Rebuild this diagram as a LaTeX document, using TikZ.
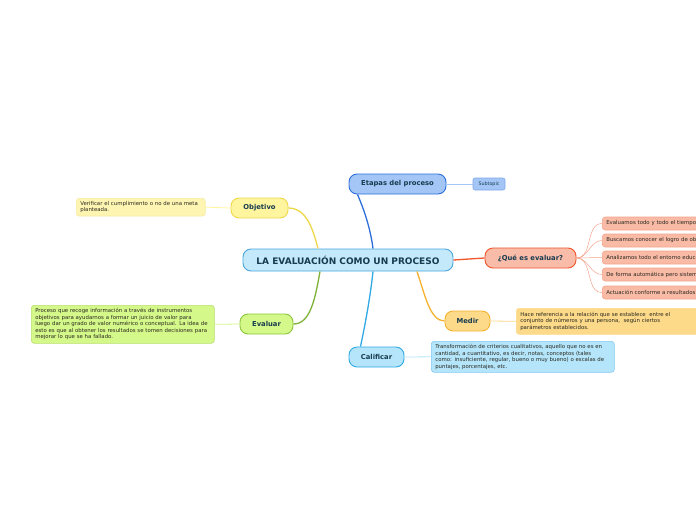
\documentclass[tikz,border=0pt]{standalone}
\usepackage{fontspec}
\setmainfont{DejaVu Sans}
\usepackage{xcolor}
\usetikzlibrary{arrows.meta, calc}

\definecolor{ink}{HTML}{173B4F}
\definecolor{smallink}{HTML}{2A2A20}
\definecolor{mainfill}{HTML}{C4E9FB}
\definecolor{maindraw}{HTML}{4AA6DC}
\definecolor{etafill}{HTML}{A4C6F6}
\definecolor{etadraw}{HTML}{2C6FDA}
\definecolor{objfill}{HTML}{FFF59E}
\definecolor{objdraw}{HTML}{EED84A}
\definecolor{objnote}{HTML}{FFF5B2}
\definecolor{quefill}{HTML}{F9BCA9}
\definecolor{quedraw}{HTML}{F0552C}
\definecolor{quenote}{HTML}{F9BAA6}
\definecolor{quenotedraw}{HTML}{F5A48C}
\definecolor{medfill}{HTML}{FDDA8A}
\definecolor{meddraw}{HTML}{F6B22E}
\definecolor{calfill}{HTML}{B4E5FA}
\definecolor{caldraw}{HTML}{31A9E4}
\definecolor{calnote}{HTML}{82C9F0}
\definecolor{evafill}{HTML}{D5F88A}
\definecolor{evadraw}{HTML}{8CC63C}
\definecolor{evanote}{HTML}{B8DF6A}

\begin{document}
\begin{tikzpicture}[x=1pt, y=-1pt,
    topic/.style={draw, line width=0.9pt, rounded corners=8pt, text=ink,
        font=\fontsize{6.8}{8}\selectfont\bfseries, minimum height=20pt, inner sep=0pt},
    note/.style={draw, line width=0.6pt, rounded corners=3pt, text=smallink,
        font=\fontsize{5.4}{6.5}\selectfont, align=left, anchor=north west,
        inner xsep=4pt, inner ysep=3pt},
    leaf/.style={note, draw=quenotedraw, fill=quenote, text width=140pt,
        minimum height=13pt, anchor=west},
    branch/.style={line width=1.3pt},
    twig/.style={line width=0.8pt}]
\clip (0,0) rectangle (696,520);
\fill[white] (0,0) rectangle (696,520);

\node[draw=maindraw, fill=mainfill, line width=0.9pt, rounded corners=8pt,
    minimum width=210pt, minimum height=22pt, inner sep=0pt, text=ink,
    font=\fontsize{9}{10}\selectfont\bfseries] (c) at (348,260) {LA EVALUACIÓN COMO UN PROCESO};

\node[topic, draw=etadraw, fill=etafill, minimum width=97pt] (e) at (397.5,184) {Etapas del proceso};
\node[draw=etadraw!60, fill=etafill, line width=0.6pt, rounded corners=2pt,
    minimum width=32pt, minimum height=12pt, inner sep=0pt, text=ink,
    font=\fontsize{4.8}{5}\selectfont] (s) at (489,184) {Subtopic};

\node[topic, draw=objdraw, fill=objfill, minimum width=57pt] (o) at (259.5,208) {Objetivo};
\node[note, draw=objdraw!50, fill=objnote, text width=121pt] (o1) at (76,198) {Verificar el cumplimiento o no de una meta\\planteada.};

\node[topic, draw=quedraw, fill=quefill, minimum width=91pt] (q) at (530.5,258) {¿Qué es evaluar?};
\node[leaf] (q1) at (602,223.5) {Evaluamos todo y todo el tiempo};
\node[leaf] (q2) at (602,240.5) {Buscamos conocer el logro de objetivos};
\node[leaf] (q3) at (602,257.5) {Analizamos todo el entorno educativo};
\node[leaf] (q4) at (602,274.5) {De forma automática pero sistemática};
\node[leaf] (q5) at (602,292.5) {Actuación conforme a resultados};

\node[topic, draw=meddraw, fill=medfill, minimum width=45pt] (m) at (467.5,321) {Medir};
\node[note, draw=medfill, fill=medfill, text width=192pt, minimum height=26pt] (m1) at (516,308) {Hace referencia a la relación que se establece \ entre el\\conjunto de números y una persona, \ según ciertos\\parámetros establecidos.};

\node[topic, draw=caldraw, fill=calfill, minimum width=55pt] (k) at (376.5,357) {Calificar};
\node[note, draw=calnote, fill=calfill, text width=175pt, minimum height=31pt] (k1) at (431,341) {Transformación de criterios cualitativos, aquello que no es en\\cantidad, a cuantitativo, es decir, notas, conceptos (tales\\como: insuficiente, regular, bueno o muy bueno) o escalas de\\puntajes, porcentajes, etc.};

\node[topic, draw=evadraw, fill=evafill, minimum width=53pt] (v) at (266.5,324) {Evaluar};
\node[note, draw=evanote, fill=evafill, text width=175pt, minimum height=38pt] (v1) at (31,305) {Proceso que recoge información a través de instrumentos\\objetivos para ayudarnos a formar un juicio de valor para\\luego dar un grado de valor numérico o conceptual. La idea de\\esto es que al obtener los resultados se tomen decisiones para\\mejorar lo que se ha fallado.};

\draw[branch, etadraw] ([xshift=25]c.north) .. controls (370,225) and (362,205) .. ([xshift=-40]e.south);
\draw[branch, objdraw] ([xshift=-30]c.north) .. controls (312,225) and (305,208) .. (o.east);
\draw[branch, quedraw] (c.east) -- (q.west);
\draw[branch, meddraw] ([xshift=69]c.south) .. controls (425,295) and (430,321) .. (m.west);
\draw[branch, caldraw] ([xshift=25]c.south) .. controls (370,300) and (364,330) .. ([xshift=-16]k.north);
\draw[branch, evadraw!90!black] ([xshift=-28]c.south) .. controls (315,300) and (310,324) .. (v.east);

\draw[twig, etafill] (e.east) -- (s.west);
\draw[twig, objfill] (o.west) -- (o1.east);
\draw[twig, medfill] (m.east) -- (m1.west);
\draw[twig, calfill] (k.east) -- (k1.west);
\draw[twig, evafill] (v.west) -- (v1.east);
\foreach \n in {q1,q2,q3,q4,q5}
    \draw[line width=0.5pt, quenotedraw] (q.east) to[out=0, in=180] (\n.west);
\end{tikzpicture}
\end{document}
